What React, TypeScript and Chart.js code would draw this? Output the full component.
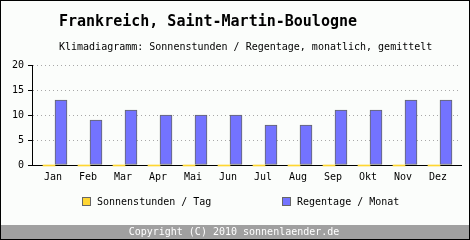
import React, { useEffect, useRef } from "react";
import { Chart, registerables } from "chart.js";

Chart.register(...registerables);

const TITLE = "Frankreich, Saint-Martin-Boulogne";
const SUBTITLE = "Klimadiagramm: Sonnenstunden / Regentage, monatlich, gemittelt";
const FOOTER = "Copyright (C) 2010 sonnenlaender.de";

const MONTHS = ["Jan", "Feb", "Mar", "Apr", "Mai", "Jun", "Jul", "Aug", "Sep", "Okt", "Nov", "Dez"];
const SUN_HOURS = [0, 0, 0, 0, 0, 0, 0, 0, 0, 0, 0, 0];
const RAIN_DAYS = [13, 9, 11, 10, 10, 10, 8, 8, 11, 11, 13, 13];
const Y_MIN = 0;
const Y_MAX = 20;
const Y_STEP = 5;
const SERIES_LABELS = ["Sonnenstunden / Tag", "Regentage / Monat"];
const SERIES_COLORS = ["#ffd633", "#7373ff"];
const BORDER_GRAY = "#666666";

const MONO = '"DejaVu Sans Mono", "Liberation Mono", monospace';

const decor = {
  id: "decor",
  beforeDraw(chart: any) {
    const { ctx, width, height } = chart;
    ctx.save();
    ctx.fillStyle = "#fbfdfb";
    ctx.fillRect(0, 0, width, height);
    ctx.restore();
  },
  afterDraw(chart: any) {
    const { ctx, width, height } = chart;
    ctx.save();
    ctx.fillStyle = "#000";
    ctx.textAlign = "left";
    ctx.textBaseline = "alphabetic";
    ctx.font = `bold 15px ${MONO}`;
    ctx.fillText(TITLE, 59, 26);
    ctx.font = `10px ${MONO}`;
    ctx.fillText(SUBTITLE, 59, 50);

    // legend
    const legendX = [82, 282];
    SERIES_LABELS.forEach((label, i) => {
      const x = legendX[i];
      ctx.fillStyle = SERIES_COLORS[i];
      ctx.fillRect(x, 197, 9, 9);
      ctx.strokeStyle = BORDER_GRAY;
      ctx.lineWidth = 1;
      ctx.strokeRect(x + 0.5, 197.5, 8, 8);
      ctx.fillStyle = "#000";
      ctx.font = `10px ${MONO}`;
      ctx.fillText(label, x + 15, 205);
    });

    // footer
    ctx.fillStyle = "#a0a0a0";
    ctx.fillRect(1, 225, width - 2, 14);
    ctx.fillStyle = "#ffffff";
    ctx.textAlign = "center";
    ctx.font = `10px ${MONO}`;
    ctx.fillText(FOOTER, 234, 235);

    // frame
    ctx.strokeStyle = "#000";
    ctx.lineWidth = 1;
    ctx.strokeRect(0.5, 0.5, width - 1, height - 1);
    ctx.restore();
  },
};

export default function App() {
  const ref = useRef<HTMLCanvasElement | null>(null);

  useEffect(() => {
    document.body.style.margin = "0";
    const canvas = ref.current;
    if (!canvas) return;
    const chart = new Chart(canvas, {
      type: "bar",
      data: {
        datasets: [
          {
            label: SERIES_LABELS[0],
            data: SUN_HOURS.map((v, i) => ({ x: i, y: v })),
            backgroundColor: SERIES_COLORS[0],
            borderWidth: 0,
            barThickness: 12,
            base: -0.2,
            clip: false,
          } as any,
          {
            label: SERIES_LABELS[1],
            data: RAIN_DAYS.map((v, i) => ({ x: i, y: v })),
            backgroundColor: SERIES_COLORS[1],
            borderColor: BORDER_GRAY,
            borderWidth: 1,
            borderSkipped: false,
            barThickness: 12,
          } as any,
        ],
      },
      options: {
        responsive: false,
        animation: false,
        devicePixelRatio: 1,
        layout: { padding: { top: 65, right: 9, bottom: 55, left: 0 } },
        plugins: {
          legend: { display: false },
          title: { display: false },
          tooltip: { enabled: false },
        },
        scales: {
          x: {
            type: "linear",
            offset: false,
            min: -23 / 35,
            max: 11.6,
            grid: { display: false, drawTicks: false, offset: false },
            border: { display: true, color: "#000", width: 1 },
            afterFit: (scale: any) => {
              scale.height = 20;
            },
            ticks: {
              stepSize: 1,
              includeBounds: false,
              autoSkip: false,
              maxRotation: 0,
              padding: 6,
              labelOffset: -2,
              color: "#000",
              font: { family: MONO, size: 10 },
              callback: (v: any) => (Number.isInteger(v) && MONTHS[v] ? MONTHS[v] : ""),
            },
          },
          y: {
            min: Y_MIN,
            max: Y_MAX,
            afterFit: (scale: any) => {
              scale.width = 32;
            },
            grid: {
              color: "#a8a8a8",
              tickColor: "#000",
              tickLength: 4,
              tickBorderDash: [],
              lineWidth: 1,
            },
            border: { display: true, color: "#000", width: 1, dash: [1, 3] },
            ticks: {
              stepSize: Y_STEP,
              padding: 4,
              color: "#000",
              font: { family: MONO, size: 10 },
            },
          },
        },
      } as any,
      plugins: [decor],
    });
    return () => chart.destroy();
  }, []);

  return (
    <canvas
      ref={ref}
      width={470}
      height={240}
      style={{ display: "block", width: 470, height: 240 }}
    />
  );
}
